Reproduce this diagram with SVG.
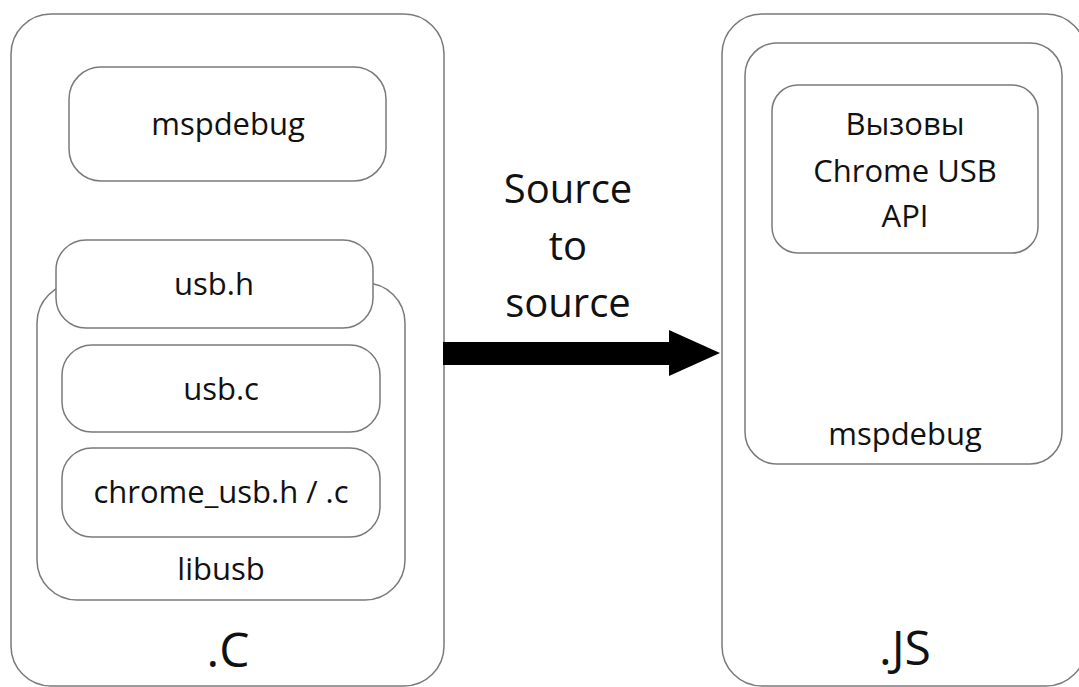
<svg xmlns="http://www.w3.org/2000/svg" width="1079" height="687" viewBox="0 0 1079 687">
<style>
.box{fill:#fff;stroke:#7a7a7a;stroke-width:1.5}
.t{font-family:"Open Sans","Liberation Sans",sans-serif;fill:#111;text-anchor:middle}
.m{font-size:31px}
.l{font-size:40px}
.xl{font-size:48px}
</style>
<rect width="1079" height="687" fill="#fff"/>
<g id="c-container">
<rect class="box" x="11" y="14" width="433" height="672" rx="40"/>
<text class="t xl" x="228" y="667">.C</text>
</g>
<g id="mspdebug-c">
<rect class="box" x="69" y="67" width="317" height="114" rx="32"/>
<text class="t m" x="228" y="135">mspdebug</text>
</g>
<g id="libusb">
<rect class="box" x="37" y="283" width="368" height="317" rx="40"/>
<text class="t m" x="221" y="580">libusb</text>
</g>
<g id="usb-h">
<rect class="box" x="56" y="240" width="317" height="88" rx="30"/>
<text class="t m" x="214" y="295">usb.h</text>
</g>
<g id="usb-c">
<rect class="box" x="62" y="345" width="318" height="87" rx="30"/>
<text class="t m" x="221" y="400">usb.c</text>
</g>
<g id="chrome-usb">
<rect class="box" x="62" y="448" width="318" height="89" rx="30"/>
<text class="t m" x="221" y="503">chrome_usb.h / .c</text>
</g>
<g id="js-container">
<rect class="box" x="722" y="14" width="364" height="672" rx="40"/>
<text class="t xl" x="905" y="665">.JS</text>
</g>
<g id="mspdebug-js">
<rect class="box" x="745" y="43" width="317" height="421" rx="32"/>
<text class="t m" x="905" y="445">mspdebug</text>
</g>
<g id="chrome-api">
<rect class="box" x="772" y="85" width="266" height="168" rx="26"/>
<text class="t m" x="905" y="135">Вызовы</text>
<text class="t m" x="905" y="182">Chrome USB</text>
<text class="t m" x="905" y="227">API</text>
</g>
<g id="connectors">
<polygon points="443,342 669,342 669,330 720,353 669,376 669,365 443,365" fill="#000"/>
<text class="t l" x="568" y="203">Source</text>
<text class="t l" x="568" y="260">to</text>
<text class="t l" x="568" y="317">source</text>
</g>
</svg>
